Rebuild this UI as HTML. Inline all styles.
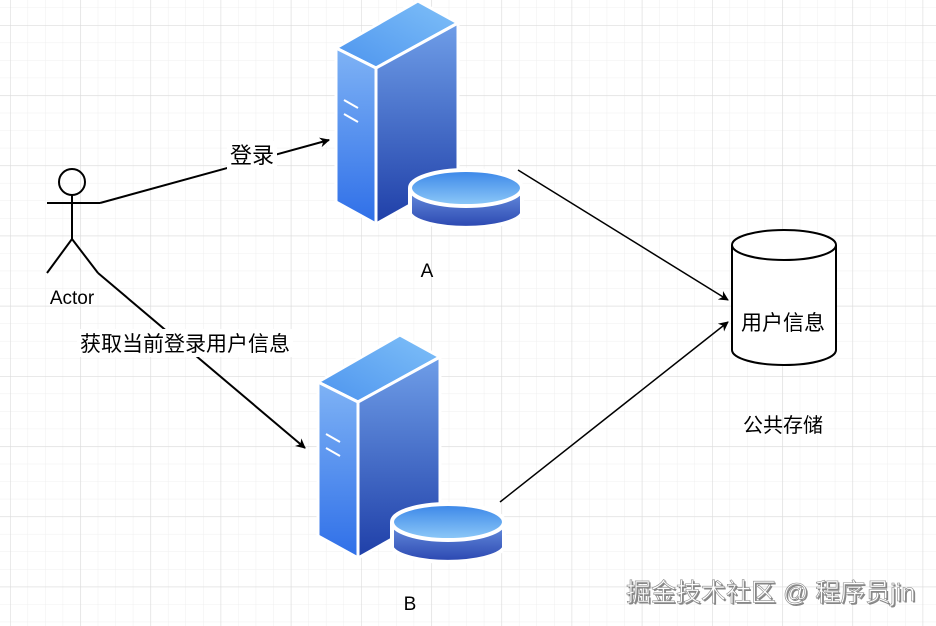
<!DOCTYPE html>
<html><head><meta charset="utf-8"><style>
html,body{margin:0;padding:0;background:#fff;}
svg{display:block;}
text{font-family:"Liberation Sans","Noto Sans CJK SC",sans-serif;}
</style></head><body>
<svg width="936" height="626" viewBox="0 0 936 626" xmlns="http://www.w3.org/2000/svg">
<defs>
<pattern id="minor" x="10" y="25" width="17.55" height="17.55" patternUnits="userSpaceOnUse">
<path d="M0 0V17.55M0 0H17.55" stroke="#efefef" stroke-width="1" fill="none"/>
</pattern>
<pattern id="major" x="10" y="25" width="70.2" height="70.2" patternUnits="userSpaceOnUse">
<path d="M0 0V70.2M0 0H70.2" stroke="#dcdcdc" stroke-width="1.2" fill="none"/>
</pattern>
<linearGradient id="gl" x1="0" y1="0" x2="0" y2="1"><stop offset="0" stop-color="#7fb3f5"/><stop offset="1" stop-color="#2f6fe8"/></linearGradient>
<linearGradient id="gr" x1="0" y1="0" x2="0" y2="1"><stop offset="0" stop-color="#6f9ee8"/><stop offset="1" stop-color="#1f3fa8"/></linearGradient>
<linearGradient id="gt" x1="0" y1="1" x2="1" y2="0"><stop offset="0" stop-color="#4d94ee"/><stop offset="1" stop-color="#7fc0f8"/></linearGradient>
<linearGradient id="dt" x1="0" y1="1" x2="0" y2="0"><stop offset="0" stop-color="#8fcaf8"/><stop offset="1" stop-color="#3a86e8"/></linearGradient>
<linearGradient id="ds" x1="0" y1="0" x2="0" y2="1"><stop offset="0" stop-color="#6a92e0"/><stop offset="1" stop-color="#2a46b0"/></linearGradient>
<marker id="ar" viewBox="0 0 10 10" refX="9" refY="5" markerWidth="10" markerHeight="10" markerUnits="userSpaceOnUse" orient="auto">
<path d="M0 0L10 5L0 10L3 5z" fill="#000"/></marker>
<g id="srv">
<path d="M336 48L418 1L458 23L376 68Z" fill="url(#gt)" stroke="#fff" stroke-width="3" stroke-linejoin="round"/>
<path d="M336 48L376 68L376 224L336 202Z" fill="url(#gl)" stroke="#fff" stroke-width="3" stroke-linejoin="round"/>
<path d="M376 68L458 23L458 178L376 224Z" fill="url(#gr)" stroke="#fff" stroke-width="3" stroke-linejoin="round"/>
<path d="M344 100L358 108M344 114L358 122" stroke="#fff" stroke-width="2"/>
<path d="M410 188V214A57 17 0 0 0 522 214V188" fill="url(#ds)" stroke="#fff" stroke-width="4"/>
<ellipse cx="466" cy="188" rx="56" ry="18" fill="url(#dt)" stroke="#fff" stroke-width="4"/>
</g>
</defs>
<rect width="936" height="626" fill="#fff"/>
<rect width="936" height="626" fill="url(#minor)"/>
<rect width="936" height="626" fill="url(#major)"/>

<use href="#srv"/>
<use href="#srv" transform="translate(-18,334)"/>

<g stroke="#000" stroke-width="2" fill="none">
<circle cx="72" cy="182" r="13"/>
<path d="M47 203H100M72 195V239M72 239L47 273M72 239L98 273"/>
</g>
<path d="M100 203L329 140" stroke="#000" stroke-width="2" marker-end="url(#ar)"/>
<path d="M98 273L305 448" stroke="#000" stroke-width="2" marker-end="url(#ar)"/>
<path d="M518 170L728 300" stroke="#000" stroke-width="1.5" marker-end="url(#ar)"/>
<path d="M500 502L728 322" stroke="#000" stroke-width="1.5" marker-end="url(#ar)"/>

<g stroke="#000" stroke-width="2" fill="#fff">
<path d="M732 245V350A52 15 0 0 0 836 350V245"/>
<ellipse cx="784" cy="245" rx="52" ry="15"/>
</g>

<rect x="227" y="141" width="50" height="28" fill="#fff"/>
<text x="252" y="163" font-size="22" text-anchor="middle">登录</text>
<rect x="77" y="329" width="216" height="28" fill="#fff"/>
<text x="185" y="351" font-size="21" text-anchor="middle">获取当前登录用户信息</text>
<text x="72" y="304" font-size="19" text-anchor="middle">Actor</text>
<text x="427" y="277" font-size="19" text-anchor="middle">A</text>
<text x="410" y="610" font-size="19" text-anchor="middle">B</text>
<text x="783" y="330" font-size="21" text-anchor="middle">用户信息</text>
<text x="783" y="432" font-size="20" text-anchor="middle">公共存储</text>
<text x="626" y="601" font-size="25" fill="#555" opacity="0.7" transform="translate(1.5,1.5)">掘金技术社区 @ 程序员jin</text>
<text x="626" y="601" font-size="25" fill="#fff" stroke="#888" stroke-width="0.6">掘金技术社区 @ 程序员jin</text>
</svg>
</body></html>
